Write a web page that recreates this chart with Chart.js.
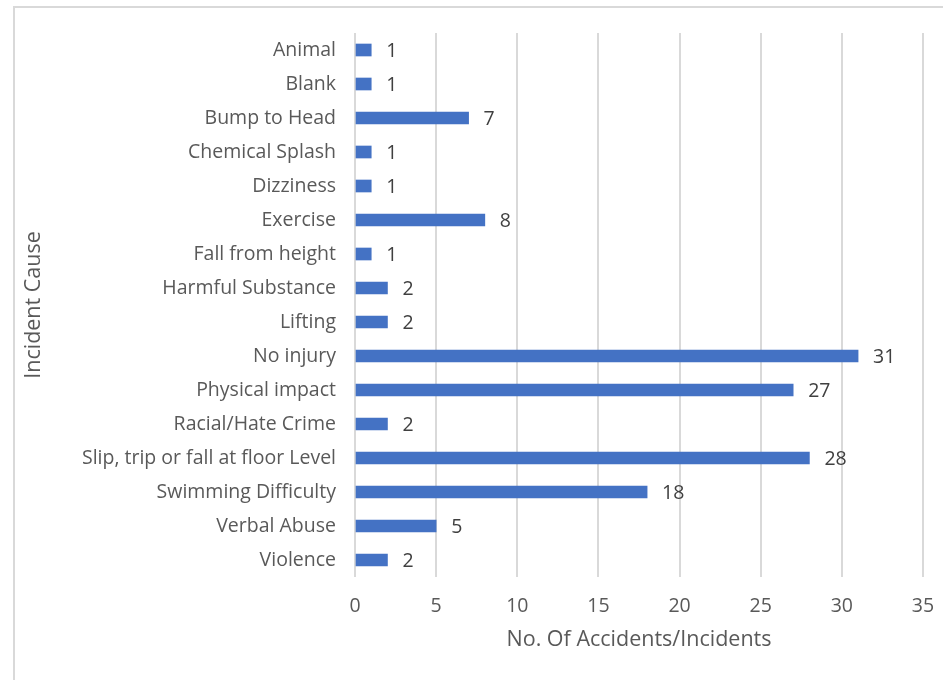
<!DOCTYPE html>
<html>
<head>
<meta charset="utf-8">
<script src="https://cdn.jsdelivr.net/npm/chart.js@4/dist/chart.umd.min.js"></script>
<style>
  body { margin: 0; background: #fff; }
  #chartBox { width: 943px; height: 680px; }
</style>
</head>
<body>
<div id="chartBox"><canvas id="chart-bars" width="943" height="680"></canvas></div>
<script>
// data
var causes = ['Animal', 'Blank', 'Bump to Head', 'Chemical Splash', 'Dizziness', 'Exercise',
    'Fall from height', 'Harmful Substance', 'Lifting', 'No injury', 'Physical impact',
    'Racial/Hate Crime', 'Slip, trip or fall at floor Level', 'Swimming Difficulty',
    'Verbal Abuse', 'Violence'];
var counts = [1, 1, 7, 1, 1, 8, 1, 2, 2, 31, 27, 2, 28, 18, 5, 2];
var xTicks = [0, 5, 10, 15, 20, 25, 30, 35];

var fontName = '"Open Sans", sans-serif';

// outer frame like the spreadsheet chart box
var framePlugin = {
    id: 'frame',
    beforeDraw: function (chart) {
        var ctx = chart.ctx;
        ctx.save();
        ctx.fillStyle = '#fff';
        ctx.fillRect(0, 0, chart.width, chart.height);
        ctx.strokeStyle = '#d9d9d9';
        ctx.lineWidth = 2;
        ctx.beginPath();
        ctx.moveTo(14, chart.height + 5);
        ctx.lineTo(14, 7);
        ctx.lineTo(chart.width + 5, 7);
        ctx.stroke();
        ctx.restore();
    }
};

// value labels at the end of each bar
var valueLabels = {
    id: 'valueLabels',
    afterDatasetsDraw: function (chart) {
        var ctx = chart.ctx;
        var meta = chart.getDatasetMeta(0);
        ctx.save();
        ctx.font = '19.5px ' + fontName;
        ctx.fillStyle = '#404040';
        ctx.textAlign = 'left';
        ctx.textBaseline = 'middle';
        meta.data.forEach(function (bar, i) {
            ctx.fillText(counts[i], bar.x + 15, bar.y + 1);
        });
        ctx.restore();
    }
};

var ordersChart = new Chart(document.getElementById('chart-bars'), {
    type: 'bar',
    data: {
        labels: causes,
        datasets: [{
            label: 'No. Of Accidents/Incidents',
            data: counts,
            backgroundColor: '#4472c4',
            borderWidth: 0,
            barThickness: 12
        }]
    },
    options: {
        indexAxis: 'y',
        responsive: false,
        animation: false,
        layout: { padding: { left: 13, top: 33, right: 20, bottom: 0 } },
        plugins: {
            legend: { display: false },
            tooltip: { enabled: false }
        },
        scales: {
            x: {
                min: 0,
                max: 35,
                afterBuildTicks: function (scale) {
                    scale.ticks = xTicks.map(function (v) { return { value: v }; });
                },
                grid: { color: '#d9d9d9', lineWidth: 2, drawTicks: false },
                border: { display: false },
                ticks: { color: '#595959', font: { family: fontName, size: 19.5 }, padding: 18, maxRotation: 0 },
                title: {
                    display: true,
                    text: 'No. Of Accidents/Incidents',
                    color: '#595959',
                    font: { family: fontName, size: 21.5 },
                    padding: { top: 0, bottom: 27 }
                },
                afterFit: function (scale) {
                    scale.height = 103;
                    scale.paddingLeft = 0;
                    scale.paddingRight = 0;
                }
            },
            y: {
                grid: { display: false, drawTicks: false },
                border: { display: false },
                ticks: { color: '#595959', font: { family: fontName, size: 19.5 }, padding: 19, autoSkip: false },
                title: {
                    display: true,
                    text: 'Incident Cause',
                    color: '#595959',
                    font: { family: fontName, size: 21.5 },
                    padding: { top: 8, bottom: 0 }
                },
                afterFit: function (scale) {
                    scale.width = 342;
                    scale.paddingTop = 0;
                    scale.paddingBottom = 0;
                }
            }
        }
    },
    plugins: [framePlugin, valueLabels]
});
</script>
</body>
</html>
